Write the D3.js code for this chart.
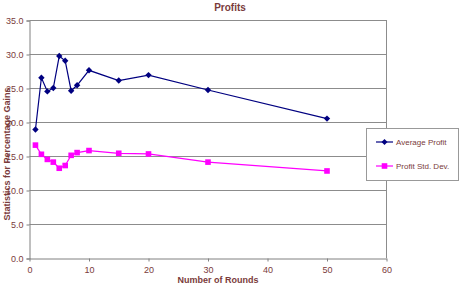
<!DOCTYPE html>
<html>
<head>
<meta charset="utf-8">
<script src="https://cdn.jsdelivr.net/npm/d3@7"></script>
<style>
body { margin: 0; background: white; }
text { font-family: "Liberation Sans", Arial, sans-serif; }
</style>
</head>
<body>
<svg id="chart"></svg>
<script>
//data
const rounds = [1, 2, 3, 4, 5, 6, 7, 8, 10, 15, 20, 30, 50]
const avgProfit = [18.9, 26.5, 24.5, 25.0, 29.7, 29.0, 24.6, 25.4, 27.6, 26.1, 26.9, 24.7, 20.5]
const stdDev = [16.6, 15.25, 14.5, 14.1, 13.2, 13.6, 15.1, 15.5, 15.8, 15.4, 15.3, 14.1, 12.8]
const xTicks = [0, 10, 20, 30, 40, 50, 60]
const yTicks = [0, 5, 10, 15, 20, 25, 30, 35]
const seriesNames = ["Average Profit", "Profit Std. Dev."]

const textColor = "#7a3b3b"

const svg = d3.select("svg#chart")
              .attr("width", 460)
              .attr("height", 284)

const x = d3.scaleLinear().domain([0, 60]).range([29.5, 386.5])
const y = d3.scaleLinear().domain([0, 35]).range([258, 20])

//gridlines
svg.append("g")
   .selectAll("line")
   .data(yTicks.slice(1))
   .join("line")
   .attr("x1", x(0))
   .attr("x2", x(60))
   .attr("y1", d => Math.round(y(d)) + 0.5)
   .attr("y2", d => Math.round(y(d)) + 0.5)
   .attr("stroke", "#8c8c8c")
   .attr("stroke-width", 1)

//right border of plot area
svg.append("line")
   .attr("x1", x(60))
   .attr("x2", x(60))
   .attr("y1", y(35))
   .attr("y2", y(0))
   .attr("stroke", "#8c8c8c")

//y axis
const yAxis = svg.append("g")
                 .attr("transform", "translate(" + x(0) + ",0.5)")
                 .call(d3.axisLeft(y).tickValues(yTicks).tickSize(3).tickFormat(d3.format(".1f")))
yAxis.select(".domain").attr("stroke", "#808080")
yAxis.selectAll(".tick line").attr("stroke", "#808080")
yAxis.selectAll("text")
     .attr("fill", textColor)
     .attr("font-size", 9)
     .attr("x", -6)

//x axis
const xAxis = svg.append("g")
                 .attr("transform", "translate(0," + (y(0) + 0.5) + ")")
                 .call(d3.axisBottom(x).tickValues(xTicks).tickSize(3).tickSizeOuter(0))
xAxis.select(".domain").attr("stroke", "#808080")
xAxis.selectAll(".tick line").attr("stroke", "#808080")
xAxis.selectAll("text")
     .attr("fill", textColor)
     .attr("font-size", 9)
     .attr("y", 8)

//lines
const line = d3.line()
               .x((d, i) => x(rounds[i]))
               .y(d => y(d))

svg.append("path")
   .attr("d", line(avgProfit))
   .attr("fill", "none")
   .attr("stroke", "#000080")
   .attr("stroke-width", 1.2)

svg.append("path")
   .attr("d", line(stdDev))
   .attr("fill", "none")
   .attr("stroke", "#ff00ff")
   .attr("stroke-width", 1.2)

//markers
svg.append("g")
   .selectAll("path")
   .data(avgProfit)
   .join("path")
   .attr("transform", (d, i) => "translate(" + x(rounds[i]) + "," + y(d) + ")")
   .attr("d", "M0,-3.2L3.2,0L0,3.2L-3.2,0Z")
   .attr("fill", "#000080")

svg.append("g")
   .selectAll("rect")
   .data(stdDev)
   .join("rect")
   .attr("x", (d, i) => x(rounds[i]) - 2.8)
   .attr("y", d => y(d) - 2.8)
   .attr("width", 5.6)
   .attr("height", 5.6)
   .attr("fill", "#ff00ff")

//title
svg.append("text")
   .attr("x", 230)
   .attr("y", 11)
   .attr("text-anchor", "middle")
   .attr("font-size", 10)
   .attr("font-weight", "bold")
   .attr("fill", textColor)
   .text("Profits")

//axis titles
svg.append("text")
   .attr("x", 218)
   .attr("y", 283)
   .attr("text-anchor", "middle")
   .attr("font-size", 9)
   .attr("font-weight", "bold")
   .attr("fill", textColor)
   .text("Number of Rounds")

svg.append("text")
   .attr("transform", "translate(10,154) rotate(-90)")
   .attr("text-anchor", "middle")
   .attr("font-size", 9)
   .attr("font-weight", "bold")
   .attr("fill", textColor)
   .text("Statistics for Percentage Gains")

//legend
const legend = svg.append("g")
legend.append("rect")
      .attr("x", 366.5)
      .attr("y", 128.5)
      .attr("width", 92)
      .attr("height", 52)
      .attr("fill", "white")
      .attr("stroke", "#999999")

const legendY = [142, 166]
const legendColors = ["#000080", "#ff00ff"]
seriesNames.forEach((name, i) => {
    legend.append("line")
          .attr("x1", 376)
          .attr("x2", 393)
          .attr("y1", legendY[i])
          .attr("y2", legendY[i])
          .attr("stroke", legendColors[i])
          .attr("stroke-width", 1.2)
    if (i == 0) {
        legend.append("path")
              .attr("transform", "translate(384.5," + legendY[i] + ")")
              .attr("d", "M0,-3L3,0L0,3L-3,0Z")
              .attr("fill", legendColors[i])
    } else {
        legend.append("rect")
              .attr("x", 381.7)
              .attr("y", legendY[i] - 2.8)
              .attr("width", 5.6)
              .attr("height", 5.6)
              .attr("fill", legendColors[i])
    }
    legend.append("text")
          .attr("x", 396)
          .attr("y", legendY[i] + 3)
          .attr("font-size", 8)
          .attr("fill", textColor)
          .text(name)
})
</script>
</body>
</html>
